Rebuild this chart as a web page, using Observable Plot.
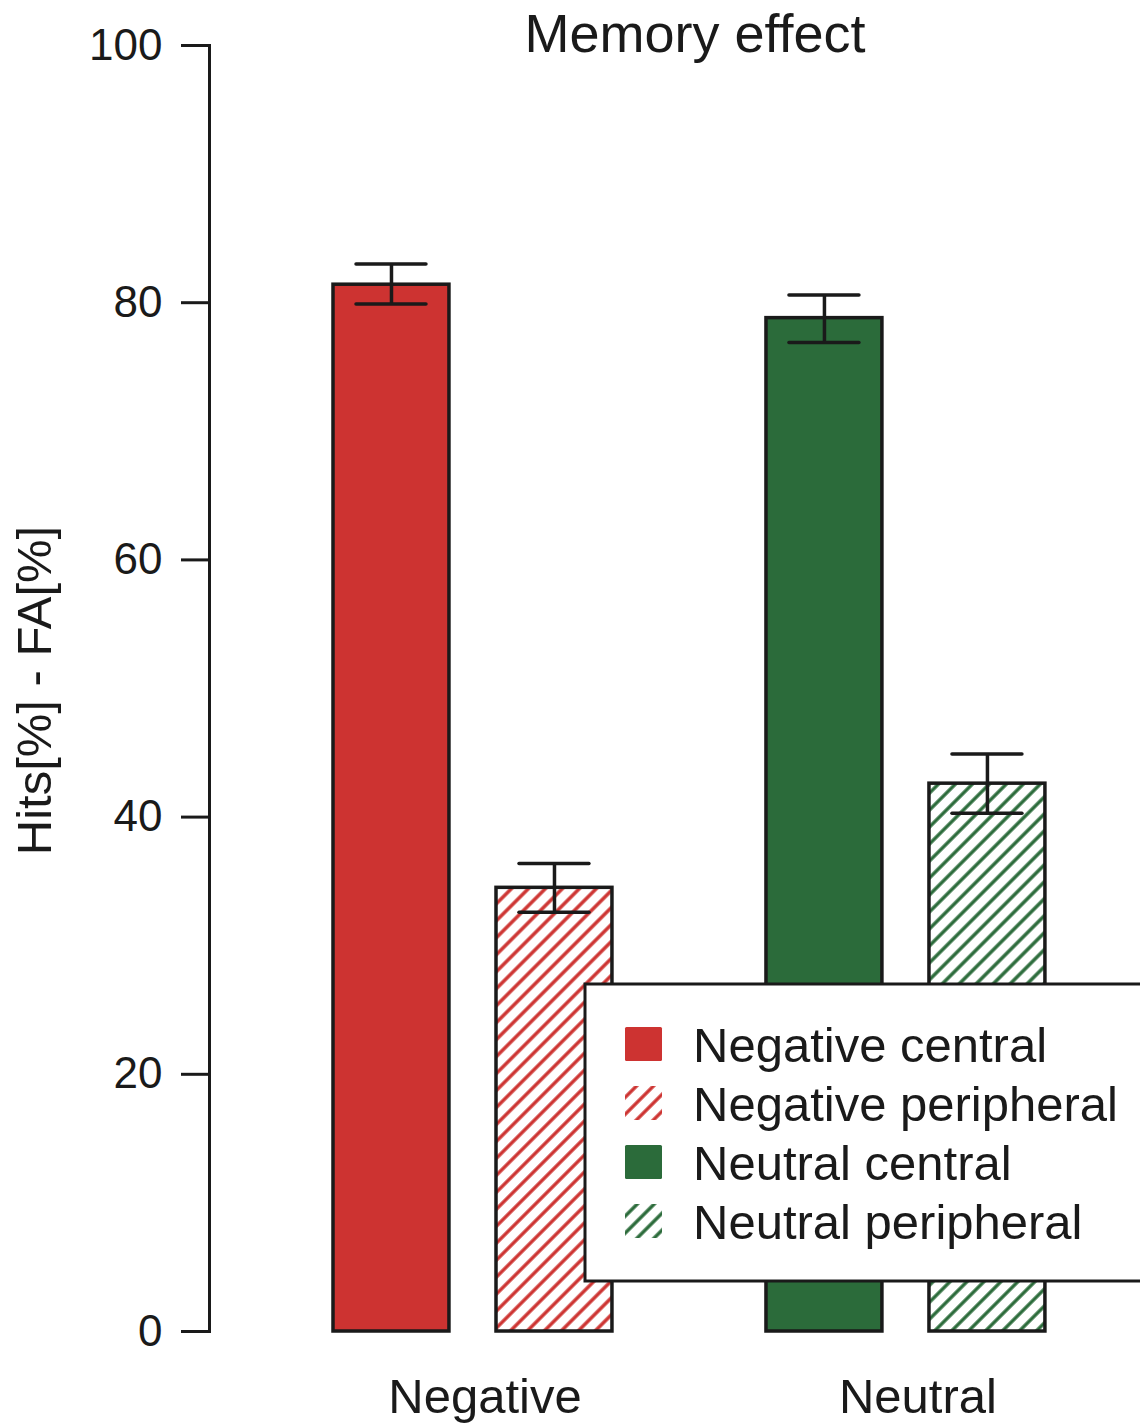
<!DOCTYPE html>
<html><head><meta charset="utf-8">
<script src="https://cdn.jsdelivr.net/npm/d3@7"></script>
<script src="https://cdn.jsdelivr.net/npm/@observablehq/plot@0.6"></script>
<style>
body{margin:0;background:#fff;}
#chart svg{display:block;overflow:hidden;}
</style></head><body><div id="chart"></div>
<script>
const groups = ["Negative", "Neutral"];
const seriesLabels = ["Negative central", "Negative peripheral", "Neutral central", "Neutral peripheral"];
const seriesGroup = ["Negative", "Negative", "Neutral", "Neutral"];
const seriesType = ["central", "peripheral", "central", "peripheral"];
const means = [81.4, 34.5, 78.8, 42.6];
const lower = [79.9, 32.6, 76.9, 40.3];
const upper = [83.0, 36.4, 80.6, 44.9];
const yTicks = [0, 20, 40, 60, 80, 100];
const title = "Memory effect";
const yLabel = "Hits[%] - FA[%]";

const RED = "#cd3331", GREEN = "#2b6b3a", INK = "#1a1a1a";
const groupColor = {Negative: RED, Neutral: GREEN};
const rows = seriesLabels.map((label, i) => ({
  label, group: seriesGroup[i], type: seriesType[i], mean: means[i], lo: lower[i], hi: upper[i]
}));

// layout (pixels): group band 279 wide, bar 116 wide
const BAND = 279, BAR = 116, GAP = BAND - BAR, CAPIN = 23;
const half = (BAND - BAR) / 2;

const marks = [
  Plot.axisY({ticks: yTicks, tickSize: 28, tickPadding: 19, strokeWidth: 3, label: null, tickFormat: d => String(d), fontSize: 44}),
  Plot.frame({anchor: "left", strokeWidth: 3, stroke: INK})
];
for (const r of rows) {
  const central = r.type === "central";
  const fill = central ? groupColor[r.group] : `url(#hatch-${r.group})`;
  marks.push(Plot.barY([r], {
    x: "group", y1: 0, y2: "mean", fill, stroke: INK, strokeWidth: 3.5,
    insetLeft: central ? 0 : GAP, insetRight: central ? GAP : 0
  }));
}
for (const r of rows) {
  const central = r.type === "central";
  marks.push(Plot.ruleX([r], {x: "group", y1: "lo", y2: "hi", stroke: INK, strokeWidth: 3.5, dx: central ? -half : half}));
  for (const key of ["lo", "hi"]) {
    marks.push(Plot.tickY([r], {
      x: "group", y: key, stroke: INK, strokeWidth: 3.5, strokeLinecap: "round",
      insetLeft: central ? CAPIN : GAP + CAPIN, insetRight: central ? GAP + CAPIN : CAPIN
    }));
  }
}
marks.push(Plot.text([title], {text: d => d, frameAnchor: "top", textAnchor: "middle", lineAnchor: "bottom", dx: 20, dy: 6, fontSize: 54, fill: INK}));
marks.push(Plot.text([yLabel], {text: d => d, frameAnchor: "left", textAnchor: "middle", lineAnchor: "middle", rotate: -90, dx: -174, dy: 2, fontSize: 49, fill: INK}));
marks.push(Plot.text(groups, {x: d => d, text: d => d, frameAnchor: "bottom", textAnchor: "middle", lineAnchor: "bottom", dx: 12, dy: 81, fontSize: 49, fill: INK}));

const chart = Plot.plot({
  width: 1140, height: 1423,
  marginLeft: 209, marginRight: 0, marginTop: 45, marginBottom: 92,
  style: {fontFamily: "'Liberation Sans', Arial, sans-serif", fontSize: "44px", color: INK, background: "white"},
  x: {domain: groups, paddingInner: 0.3557, paddingOuter: 0.253, align: 0.566, round: false, axis: null},
  y: {domain: [0, 100], axis: null},
  marks
});
document.getElementById("chart").appendChild(chart);

// hatch patterns
const svg = d3.select(chart);
const defs = svg.insert("defs", ":first-child");
function hatch(id, color, spacing, width) {
  const p = defs.append("pattern").attr("id", id).attr("patternUnits", "userSpaceOnUse")
    .attr("width", spacing).attr("height", spacing).attr("patternTransform", "rotate(45)");
  p.append("rect").attr("width", spacing).attr("height", spacing).attr("fill", "white");
  p.append("line").attr("x1", spacing / 2).attr("x2", spacing / 2).attr("y1", -1).attr("y2", spacing + 1)
    .attr("stroke", color).attr("stroke-width", width);
}
hatch("hatch-Negative", RED, 12, 3.4);
hatch("hatch-Neutral", GREEN, 12, 3.4);

// legend
const lg = svg.append("g").attr("font-family", "'Liberation Sans', Arial, sans-serif").attr("text-anchor", "start");
lg.append("rect").attr("x", 585).attr("y", 984).attr("width", 600).attr("height", 297)
  .attr("fill", "white").attr("stroke", INK).attr("stroke-width", 3);
rows.forEach((r, i) => {
  const base = 1062 + i * 59;
  const central = r.type === "central";
  lg.append("rect").attr("x", 625).attr("y", base - 35).attr("width", 37).attr("height", 34)
    .attr("rx", 1.5)
    .attr("fill", central ? groupColor[r.group] : `url(#hatch-${r.group})`);
  lg.append("text").attr("x", 693).attr("y", base).attr("font-size", 49).attr("fill", INK)
    .attr("text-anchor", "start").text(r.label);
});
</script></body></html>
